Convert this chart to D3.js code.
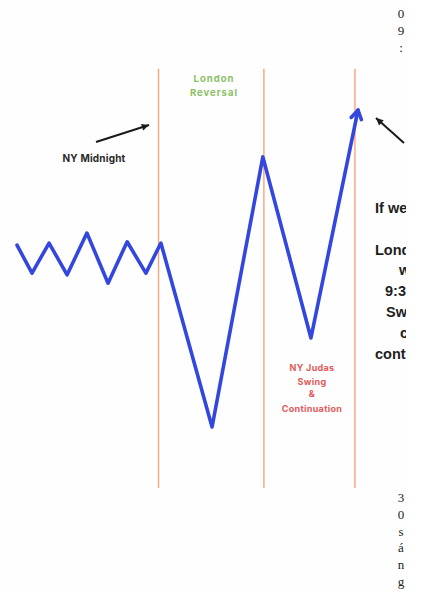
<!DOCTYPE html>
<html><head><meta charset="utf-8">
<script src="https://cdn.jsdelivr.net/npm/d3@7"></script>
<style>html,body{margin:0;padding:0;background:#fff;}svg{display:block;}</style>
</head><body>
<script>
// Price path: time (0-100) and price level (0-100)
const pathTime  = [0, 4.4, 9.4, 14.7, 20.5, 26.7, 32.3, 37.8, 42.2, 57.2, 72.1, 86.2, 100];
const pathPrice = [58.1, 51.4, 58.6, 51.0, 61.0, 49.0, 58.9, 51.4, 58.6, 14.6, 79.2, 35.9, 90.4];
// Session markers (time)
const sessionTimes = [41.5, 72.4, 99.1];
const topText = ["0", "9", ":"];
const bottomText = ["3", "0", "s", "á", "n", "g"];
const noteLines = ["If we", "", "Lond", "w", "9:3", "Sw", "c", "cont"];
const noteOffsets = [0, 0, 0, 24, 10, 11, 25, 0];

const W = 423, H = 592;
const svg = d3.select("body").append("svg").attr("width", W).attr("height", H);
const x = d3.scaleLinear().domain([0, 100]).range([17, 358]);
const y = d3.scaleLinear().domain([0, 100]).range([488, 70]);

svg.append("defs").append("clipPath").attr("id", "img")
  .append("rect").attr("x", 0).attr("y", 0).attr("width", 406).attr("height", H);

const g = svg.append("g").attr("clip-path", "url(#img)");
g.append("rect").attr("width", 406).attr("height", H).attr("fill", "#fefefe");

// session lines
g.selectAll("line.sess").data(sessionTimes).join("line")
  .attr("x1", d => x(d)).attr("x2", d => x(d))
  .attr("y1", y(100.3)).attr("y2", y(0))
  .attr("stroke", "#f3ab85").attr("stroke-width", 1.5);

// price path
const line = d3.line().x((d, i) => x(pathTime[i])).y(d => y(d));
g.append("path").datum(pathPrice).attr("d", line)
  .attr("fill", "none").attr("stroke", "#3347de").attr("stroke-width", 3.6)
  .attr("stroke-linejoin", "round").attr("stroke-linecap", "round");

// arrowhead at end
const n = pathPrice.length;
const ex = x(pathTime[n - 1]), ey = y(pathPrice[n - 1]);
const px = x(pathTime[n - 2]), py = y(pathPrice[n - 2]);
const ang = Math.atan2(ey - py, ex - px);
const hl = 10, ha = 0.55;
g.append("path")
  .attr("d", `M${ex - hl * Math.cos(ang - ha)},${ey - hl * Math.sin(ang - ha)} L${ex},${ey} L${ex - hl * Math.cos(ang + ha)},${ey - hl * Math.sin(ang + ha)}`)
  .attr("fill", "none").attr("stroke", "#3347de").attr("stroke-width", 3.6)
  .attr("stroke-linejoin", "round").attr("stroke-linecap", "round");

// black annotation arrows
function arrow(x1, y1, x2, y2) {
  const a = Math.atan2(y2 - y1, x2 - x1), l = 8, s = 0.45;
  g.append("line").attr("x1", x1).attr("y1", y1).attr("x2", x2).attr("y2", y2)
    .attr("stroke", "#1a1a1a").attr("stroke-width", 2);
  g.append("path")
    .attr("d", `M${x2},${y2} L${x2 - l * Math.cos(a - s)},${y2 - l * Math.sin(a - s)} L${x2 - l * Math.cos(a + s)},${y2 - l * Math.sin(a + s)} Z`)
    .attr("fill", "#1a1a1a");
}
arrow(96, 142, 149, 125);
arrow(404, 143, 376, 118);

const sans = "Inter, 'DejaVu Sans', sans-serif";
// labels
g.append("text").attr("font-family", sans).attr("font-weight", 700)
  .attr("font-size", 9.5).attr("letter-spacing", 1).attr("fill", "#8cc063").attr("text-anchor", "middle")
  .selectAll("tspan").data(["London", "Reversal"]).join("tspan")
  .attr("x", 214).attr("y", (d, i) => 82 + i * 14).text(d => d);

g.append("text").attr("x", 94).attr("y", 162).attr("font-family", sans).attr("font-weight", 700)
  .attr("font-size", 10).attr("letter-spacing", 0.2).attr("fill", "#2a2a2a").attr("text-anchor", "middle").text("NY Midnight");

g.append("text").attr("font-family", sans).attr("font-weight", 700)
  .attr("font-size", 9).attr("letter-spacing", 0.3).attr("fill", "#e05a5a").attr("text-anchor", "middle")
  .selectAll("tspan").data(["NY Judas", "Swing", "&", "Continuation"]).join("tspan")
  .attr("x", 312).attr("y", (d, i) => [371, 385, 397, 412][i]).text(d => d);

g.append("text").attr("font-family", "'Liberation Sans', Arial, sans-serif").attr("font-weight", 700)
  .attr("font-size", 14.5).attr("fill", "#1e1e1e")
  .selectAll("tspan").data(noteLines).join("tspan")
  .attr("x", (d, i) => 375 + noteOffsets[i]).attr("y", (d, i) => 213 + i * 20.8).text(d => d);

// vertical serif text on the right
const serif = "'Liberation Serif', 'DejaVu Serif', serif";
svg.selectAll("text.top").data(topText).join("text").attr("class", "top")
  .attr("x", 401).attr("y", (d, i) => 18 + i * 17).attr("text-anchor", "middle")
  .attr("font-family", serif).attr("font-size", 13).attr("fill", "#222").text(d => d);
svg.selectAll("text.bot").data(bottomText).join("text").attr("class", "bot")
  .attr("x", 401).attr("y", (d, i) => 502 + i * 16.8).attr("text-anchor", "middle")
  .attr("font-family", serif).attr("font-size", 13).attr("fill", "#222").text(d => d);
</script>
</body></html>
